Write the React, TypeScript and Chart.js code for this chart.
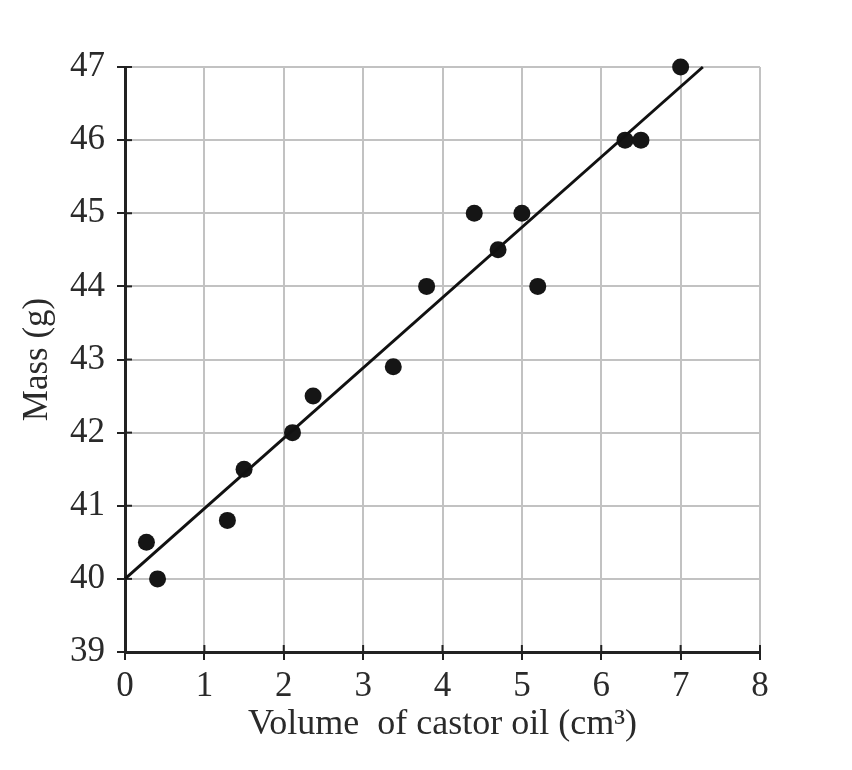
import React, { useEffect, useRef } from "react";
import { Chart, registerables } from "chart.js";

Chart.register(...registerables);

const volumes = [0.27, 0.41, 1.29, 1.5, 2.11, 2.37, 3.38, 3.8, 4.4, 4.7, 5.0, 5.2, 6.3, 6.5, 7.0];
const masses = [40.5, 40.0, 40.8, 41.5, 42.0, 42.5, 42.9, 44.0, 45.0, 44.5, 45.0, 44.0, 46.0, 46.0, 47.0];
const fitX = [0, 7.28];
const fitY = [40, 47];
const xTitle = "Volume  of castor oil (cm³)";
const yTitle = "Mass (g)";

const FONT = "'Liberation Serif', 'Times New Roman', serif";

const innerTicks = {
  id: "innerTicks",
  beforeDatasetsDraw(chart: any) {
    const { ctx, chartArea, scales } = chart;
    ctx.save();
    ctx.strokeStyle = "#222";
    ctx.lineWidth = 2;
    const xs = scales.x;
    xs.ticks.forEach((t: any) => {
      const px = xs.getPixelForValue(t.value);
      ctx.beginPath();
      ctx.moveTo(px, chartArea.bottom);
      ctx.lineTo(px, chartArea.bottom - 7);
      ctx.stroke();
    });
    const ys = scales.y;
    ys.ticks.forEach((t: any) => {
      const py = ys.getPixelForValue(t.value);
      ctx.beginPath();
      ctx.moveTo(chartArea.left, py);
      ctx.lineTo(chartArea.left + 7, py);
      ctx.stroke();
    });
    ctx.restore();
  },
};

export default function App() {
  const ref = useRef<HTMLCanvasElement>(null);
  useEffect(() => {
    if (!ref.current) return;
    const chart = new Chart(ref.current, {
      type: "scatter",
      data: {
        datasets: [
          {
            type: "line",
            data: fitX.map((x, i) => ({ x, y: fitY[i] })),
            borderColor: "#111",
            borderWidth: 3,
            pointRadius: 0,
            fill: false,
            clip: false,
          } as any,
          {
            type: "scatter",
            data: volumes.map((x, i) => ({ x, y: masses[i] })),
            backgroundColor: "#151515",
            borderColor: "#151515",
            pointRadius: 8.5,
            borderWidth: 0,
            clip: false,
          } as any,
        ],
      },
      options: {
        animation: false,
        responsive: false,
        layout: { padding: { left: 0, top: 67, right: 92, bottom: 0 } },
        plugins: { legend: { display: false }, tooltip: { enabled: false } },
        scales: {
          x: {
            type: "linear",
            min: 0,
            max: 8,
            ticks: { stepSize: 1, color: "#2a2a2a", font: { family: FONT, size: 35 }, padding: 6 },
            grid: { color: "#c2c2c2", lineWidth: 2, tickColor: "#222", tickLength: 8, tickWidth: 2 },
            border: { color: "#222", width: 3 },
            title: {
              display: true,
              text: xTitle,
              color: "#2a2a2a",
              font: { family: FONT, size: 36 },
              padding: { top: 0, bottom: 24 },
            },
            afterFit(scale: any) {
              scale.height = 118;
            },
          },
          y: {
            type: "linear",
            min: 39,
            max: 47,
            ticks: { stepSize: 1, color: "#2a2a2a", font: { family: FONT, size: 35 }, padding: 12 },
            grid: { color: "#c2c2c2", lineWidth: 2, tickColor: "#222", tickLength: 8, tickWidth: 2 },
            border: { color: "#222", width: 3 },
            title: {
              display: true,
              text: yTitle,
              color: "#2a2a2a",
              font: { family: FONT, size: 35 },
              padding: { top: 17, bottom: 0 },
            },
            afterFit(scale: any) {
              scale.width = 125;
            },
          },
        },
      },
      plugins: [innerTicks],
    });
    return () => chart.destroy();
  }, []);
  return (
    <div style={{ position: "absolute", left: 0, top: 0, width: 852, height: 770, background: "#fff" }}>
      <canvas ref={ref} width={852} height={770} />
    </div>
  );
}
